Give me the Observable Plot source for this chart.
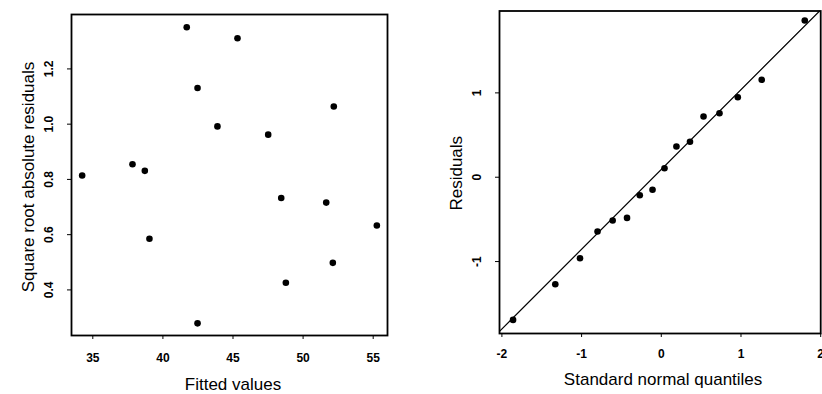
<!DOCTYPE html>
<html><head><meta charset="utf-8">
<script src="https://cdn.jsdelivr.net/npm/d3@7"></script>
<script src="https://cdn.jsdelivr.net/npm/@observablehq/plot@0.6"></script>
<style>
body{margin:0;background:#fff;}
#wrap{position:relative;width:822px;height:394px;overflow:hidden;background:#fff;}
#left,#right{position:absolute;top:0;width:411px;height:394px;}
#left{left:0}
#right{left:411px}
</style></head><body>
<div id="wrap"><div id="left"></div><div id="right"></div></div>
<script>
// Left panel: scale-location plot
const fittedValues = [41.70, 45.32, 42.47, 52.19, 43.89, 47.51, 37.83, 38.71, 34.24, 48.44, 51.65, 55.26, 39.04, 52.12, 48.77, 42.47];
const sqrtAbsResiduals = [1.351, 1.311, 1.131, 1.064, 0.992, 0.962, 0.855, 0.831, 0.814, 0.733, 0.716, 0.633, 0.585, 0.498, 0.426, 0.279];
const leftXTicks = [35, 40, 45, 50, 55];
const leftXTickLabels = ["35", "40", "45", "50", "55"];
const leftYTicks = [0.4, 0.6, 0.8, 1.0, 1.2];
const leftYTickLabels = ["0.4", "0.6", "0.8", "1.0", "1.2"];
const leftXTitle = "Fitted values";
const leftYTitle = "Square root absolute residuals";

// Right panel: normal QQ plot
const normalQuantiles = [-1.86, -1.33, -1.02, -0.80, -0.61, -0.43, -0.27, -0.11, 0.04, 0.19, 0.36, 0.53, 0.73, 0.96, 1.26, 1.80];
const residuals = [-1.692, -1.269, -0.961, -0.644, -0.514, -0.482, -0.213, -0.149, 0.107, 0.364, 0.420, 0.720, 0.759, 0.949, 1.155, 1.859];
const qqIntercept = 0.092;
const qqSlope = 0.946;
const rightXTicks = [-2, -1, 0, 1, 2];
const rightXTickLabels = ["-2", "-1", "0", "1", "2"];
const rightYTicks = [-1, 0, 1];
const rightYTickLabels = ["-1", "0", "1"];
const rightXTitle = "Standard normal quantiles";
const rightYTitle = "Residuals";

const FONT = "'Liberation Sans', Arial, Helvetica, sans-serif";
const svgStyle = {overflow: "visible", fontFamily: FONT, background: "transparent", color: "#000"};

const leftData = fittedValues.map((x, i) => ({x, y: sqrtAbsResiduals[i]}));
const rightData = normalQuantiles.map((x, i) => ({x, y: residuals[i]}));

const leftXDomain = [33.48, 56.02];
const leftYDomain = [0.235, 1.397];
const rightXDomain = [-2.03, 2.0];
const rightYDomain = [-1.853, 1.971];
const qqLine = rightXDomain.map(x => ({x, y: qqIntercept + qqSlope * x}));

const left = Plot.plot({
  width: 411, height: 394,
  marginLeft: 71, marginRight: 24, marginTop: 14, marginBottom: 59,
  style: svgStyle,
  x: {domain: leftXDomain},
  y: {domain: leftYDomain},
  marks: [
    Plot.axisX({ticks: leftXTicks, tickFormat: (d) => leftXTickLabels[leftXTicks.indexOf(d)], tickSize: 4, tickPadding: 14, fontSize: 12, fontWeight: "bold", label: null}),
    Plot.axisY({ticks: leftYTicks, tickFormat: (d) => leftYTickLabels[leftYTicks.findIndex(t => Math.abs(t - d) < 1e-9)], tickSize: 4, tickPadding: 14.5, tickRotate: -90, fontSize: 12, fontWeight: "bold", label: null}),
    Plot.frame({stroke: "#000", strokeWidth: 1.8}),
    Plot.dot(leftData, {x: "x", y: "y", r: 3.3, fill: "#000", stroke: "none"}),
    Plot.text([leftXTitle], {text: d => d, frameAnchor: "bottom", dy: 54, dx: 3.5, textAnchor: "middle", lineAnchor: "bottom", fontSize: 17}),
    Plot.text([leftYTitle], {text: d => d, frameAnchor: "left", rotate: -90, dx: -38, dy: 2, textAnchor: "middle", lineAnchor: "bottom", fontSize: 17})
  ]
});
document.getElementById("left").append(left);

const right = Plot.plot({
  width: 411, height: 394,
  marginLeft: 88, marginRight: 1.8, marginTop: 10.5, marginBottom: 61,
  style: svgStyle,
  x: {domain: rightXDomain},
  y: {domain: rightYDomain},
  marks: [
    Plot.axisX({ticks: rightXTicks, tickFormat: (d) => rightXTickLabels[rightXTicks.indexOf(d)], tickSize: 4, tickPadding: 11.5, fontSize: 12, fontWeight: "bold", label: null}),
    Plot.axisY({ticks: rightYTicks, tickFormat: (d) => rightYTickLabels[rightYTicks.indexOf(d)], tickSize: 4, tickPadding: 15, tickRotate: -90, fontSize: 12, fontWeight: "bold", label: null}),
    Plot.line(qqLine, {x: "x", y: "y", stroke: "#000", strokeWidth: 1.2, clip: true}),
    Plot.frame({stroke: "#000", strokeWidth: 1.8}),
    Plot.dot(rightData, {x: "x", y: "y", r: 3.3, fill: "#000", stroke: "none"}),
    Plot.text([rightXTitle], {text: d => d, frameAnchor: "bottom", dy: 51, dx: 3, textAnchor: "middle", lineAnchor: "bottom", fontSize: 17}),
    Plot.text([rightYTitle], {text: d => d, frameAnchor: "left", rotate: -90, dx: -38, dy: 1, textAnchor: "middle", lineAnchor: "bottom", fontSize: 17})
  ]
});
document.getElementById("right").append(right);
</script>
</body></html>
